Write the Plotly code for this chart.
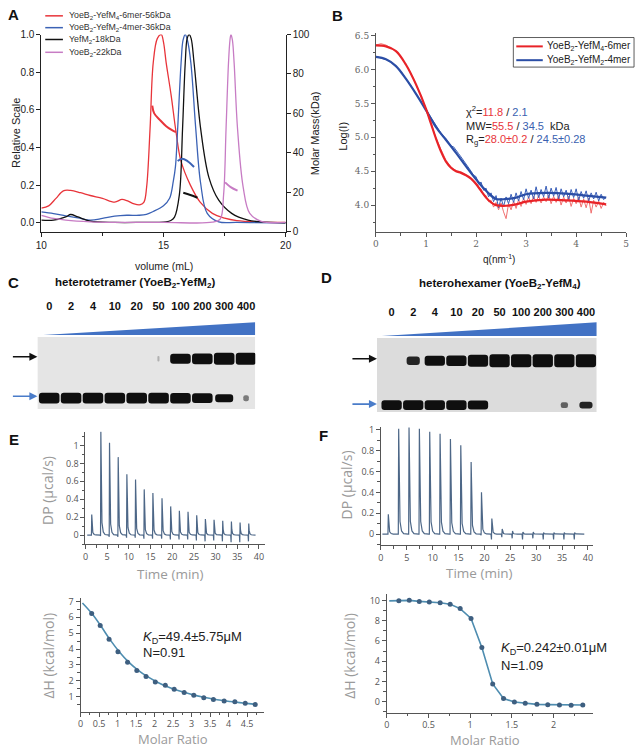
import plotly.graph_objects as go

W, H = 642, 755
def xd(a, b): return [a / W, b / W]
def yd(top, bottom): return [1 - bottom / H, 1 - top / H]
def px(x): return x / W
def py(y): return 1 - y / H

SANS = "Liberation Sans, Arial, sans-serif"
ITC = "Open Sans, Noto Sans, sans-serif"
SERIF = "DejaVu Serif, Liberation Serif, serif"
RED, BLUE, MAG = "#e8343a", "#3b62b5", "#c77cc4"

# ---------------- Panel A: SEC-MALS ----------------
A_red_vol = [10, 10.3, 10.6, 10.9, 11.2, 11.6, 12.0, 12.5, 13.0, 13.3, 13.5, 13.8, 14.05, 14.2, 14.31, 14.45, 14.58, 14.75, 14.91, 15.0, 15.11, 15.31, 15.51, 15.71, 16.1, 16.5, 17.0, 17.5, 18.0, 19.0, 20.0]
A_red = [0.078, 0.09, 0.13, 0.17, 0.172, 0.16, 0.145, 0.13, 0.11, 0.124, 0.118, 0.10, 0.096, 0.11, 0.19, 0.5, 0.85, 0.98, 1.0, 0.96, 0.85, 0.68, 0.485, 0.33, 0.2, 0.11, 0.05, 0.025, 0.012, 0.004, 0.002]
A_blue_vol = [10, 10.5, 11, 11.5, 12, 12.5, 13, 13.5, 14, 14.3, 14.58, 15.0, 15.25, 15.4, 15.49, 15.58, 15.72, 15.8, 15.89, 15.98, 16.12, 16.32, 16.52, 16.79, 17.26, 18, 20]
A_blue = [0.058, 0.049, 0.037, 0.026, 0.014, 0.023, 0.035, 0.04, 0.04, 0.045, 0.06, 0.09, 0.13, 0.22, 0.3, 0.5, 0.85, 0.97, 1.0, 0.97, 0.85, 0.5, 0.21, 0.05, 0.005, 0.002, 0.0]
A_black_vol = [10, 10.5, 11, 11.2, 11.5, 12, 13, 14, 15.1, 15.3, 15.45, 15.65, 15.78, 15.89, 15.97, 16.05, 16.13, 16.25, 16.52, 16.86, 17.26, 17.79, 18.46, 19, 20]
A_black = [0.014, 0.014, 0.031, 0.044, 0.031, 0.009, 0.002, 0.002, 0.005, 0.012, 0.03, 0.15, 0.5, 0.85, 0.98, 1.0, 0.98, 0.85, 0.5, 0.24, 0.12, 0.05, 0.014, 0.005, 0.0]
A_mag_vol = [10, 10.5, 11, 12, 13, 15, 17, 17.32, 17.46, 17.56, 17.66, 17.72, 17.76, 17.82, 17.89, 18.03, 18.26, 18.53, 19, 20]
A_mag = [0.04, 0.023, 0.014, 0.005, 0.002, 0.002, 0.003, 0.02, 0.15, 0.5, 0.85, 0.97, 1.0, 0.97, 0.85, 0.5, 0.19, 0.05, 0.008, 0.002]
A_red_mass_vol = [14.54, 14.62, 14.85, 15.11, 15.35, 15.51]
A_red_mass = [64, 60, 56.7, 53.5, 51.5, 50.5]
A_blue_mass_vol = [15.58, 15.76, 15.98, 16.25]
A_blue_mass = [35.8, 37, 35.8, 32.8]
A_black_mass_vol = [15.81, 16.1, 16.39]
A_black_mass = [19.7, 18.6, 17.2]
A_mag_mass_vol = [17.52, 17.75, 18.03]
A_mag_mass = [25, 22.6, 20.8]
A_names = ["YoeB<sub>2</sub>-YefM<sub>4</sub>-6mer-56kDa", "YoeB<sub>2</sub>-YefM<sub>2</sub>-4mer-36kDa",
           "YefM<sub>2</sub>-18kDa", "YoeB<sub>2</sub>-22kDa"]

# ---------------- Panel B: SAXS ----------------
B_red_fit_q = [0, 0.2, 0.4, 0.6, 0.8, 1.0, 1.1, 1.2, 1.3, 1.4, 1.5, 1.6, 1.7, 1.8, 1.9, 2.0, 2.1, 2.2, 2.3, 2.4, 2.6, 2.8, 3.0, 3.4, 3.8, 4.2, 4.6]
B_red_fit = [6.355, 6.34, 6.27, 6.07, 5.78, 5.42, 5.2, 4.98, 4.79, 4.64, 4.55, 4.5, 4.475, 4.44, 4.39, 4.31, 4.21, 4.11, 4.04, 4.0, 3.99, 4.01, 4.05, 4.08, 4.07, 4.05, 4.01]
B_blue_fit_q = [0, 0.2, 0.4, 0.6, 0.8, 1.0, 1.2, 1.4, 1.6, 1.8, 2.0, 2.2, 2.4, 2.6, 2.8, 3.0, 3.4, 3.8, 4.2, 4.6]
B_blue_fit = [6.185, 6.15, 6.05, 5.86, 5.64, 5.40, 5.15, 4.96, 4.77, 4.57, 4.38, 4.21, 4.09, 4.09, 4.11, 4.16, 4.18, 4.17, 4.14, 4.11]
B_red_q = [0.0, 0.1, 0.2, 0.3, 0.4, 0.5, 0.6, 0.7, 0.8, 0.9, 1.0, 1.1, 1.2, 1.3, 1.4, 1.5, 1.6, 1.7, 1.8, 1.9, 1.95,
           2.00, 2.05, 2.10, 2.15, 2.20, 2.25, 2.30, 2.35, 2.40, 2.45, 2.50, 2.55, 2.60, 2.65, 2.70, 2.75, 2.80, 2.85, 2.90, 2.95,
           3.00, 3.05, 3.10, 3.15, 3.20, 3.25, 3.30, 3.35, 3.40, 3.45, 3.50, 3.55, 3.60, 3.65, 3.70, 3.75, 3.80, 3.85, 3.90, 3.95,
           4.00, 4.05, 4.10, 4.15, 4.20, 4.25, 4.30, 4.35, 4.40, 4.45, 4.50, 4.55, 4.60]
B_red = [6.36, 6.38, 6.36, 6.31, 6.27, 6.18, 6.07, 5.94, 5.78, 5.61, 5.42, 5.20, 4.99, 4.82, 4.66, 4.56, 4.51, 4.49, 4.45, 4.40, 4.36,
         4.33, 4.27, 4.24, 4.15, 4.14, 4.05, 4.07, 3.97, 4.04, 3.93, 4.03, 3.90, 3.80, 4.02, 3.93, 4.06, 3.95, 4.08, 3.98, 4.10,
         4.01, 4.12, 4.02, 4.13, 4.04, 4.14, 4.03, 4.12, 4.05, 4.15, 4.02, 4.13, 4.04, 4.14, 4.00, 4.12, 4.03, 4.13, 3.98, 4.10,
         4.02, 4.12, 3.97, 4.09, 3.96, 4.10, 3.88, 4.07, 3.97, 4.06, 3.95, 4.04, 3.99]
B_blue_q = [0.0, 0.1, 0.2, 0.3, 0.4, 0.5, 0.6, 0.7, 0.8, 0.9, 1.0, 1.1, 1.2, 1.3, 1.40, 1.45, 1.50, 1.55, 1.60, 1.65, 1.70, 1.75, 1.80, 1.85,
            1.90, 1.95, 2.00, 2.05, 2.10, 2.15, 2.20, 2.25, 2.30, 2.35, 2.40, 2.45, 2.50, 2.55, 2.60, 2.65, 2.70, 2.75, 2.80, 2.85, 2.90, 2.95,
            3.00, 3.05, 3.10, 3.15, 3.20, 3.25, 3.30, 3.35, 3.40, 3.45, 3.50, 3.55, 3.60, 3.65, 3.70, 3.75, 3.80, 3.85, 3.90, 3.95,
            4.00, 4.05, 4.10, 4.15, 4.20, 4.25, 4.30, 4.35, 4.40, 4.45, 4.50, 4.55, 4.60]
B_blue = [6.19, 6.17, 6.15, 6.11, 6.05, 5.97, 5.87, 5.76, 5.64, 5.52, 5.40, 5.28, 5.16, 5.06, 4.98, 4.93, 4.87, 4.86, 4.80, 4.76, 4.71, 4.66, 4.60, 4.55,
          4.50, 4.44, 4.42, 4.31, 4.34, 4.22, 4.25, 4.12, 4.18, 4.05, 4.14, 3.96, 4.10, 3.98, 4.12, 4.02, 4.16, 4.04, 4.18, 4.06, 4.20, 4.08,
          4.24, 4.10, 4.22, 4.09, 4.27, 4.11, 4.23, 4.12, 4.28, 4.10, 4.25, 4.13, 4.26, 4.09, 4.24, 4.12, 4.22, 4.08, 4.23, 4.11,
          4.24, 4.07, 4.20, 4.10, 4.21, 4.06, 4.18, 4.09, 4.19, 4.06, 4.16, 4.08, 4.12]
B_names = ["YoeB<sub>2</sub>-YefM<sub>4</sub>-6mer", "YoeB<sub>2</sub>-YefM<sub>2</sub>-4mer"]

# ---------------- Panels C, D: native gels ----------------
conc_labels = ["0", "2", "4", "10", "20", "50", "100", "200", "300", "400"]
C_upper = [0, 0, 0, 0, 0, 0.12, 0.75, 0.85, 1.0, 1.0]
C_lower = [1, 1, 1, 1, 1, 1, 0.95, 0.85, 0.55, 0.25]
D_upper = [0, 0.45, 0.65, 0.7, 0.9, 1, 1, 1, 1, 1]
D_lower = [1, 1, 1, 1, 0.85, 0, 0, 0, 0.3, 0.45]
C_upper_pos, C_lower_pos = 21, 61     # migration (a.u. from well)
D_upper_pos, D_lower_pos = 23, 68

# ---------------- Panels E, F: ITC ----------------
E_inj_t = [1.4, 3.5, 5.5, 7.5, 9.5, 11.5, 13.5, 15.5, 17.6, 19.6, 21.6, 23.6, 25.6, 27.6, 29.6, 31.6, 33.6, 35.6, 37.6]
E_peak = [0.23, 1.16, 1.03, 0.87, 0.68, 0.62, 0.51, 0.47, 0.41, 0.32, 0.27, 0.26, 0.22, 0.18, 0.17, 0.16, 0.15, 0.14, 0.13]
E_dip = [0, -0.01, -0.02, -0.02, -0.03, -0.03, -0.04, -0.04, -0.04, -0.05, -0.05, -0.05, -0.06, -0.07, -0.06, -0.07, -0.08, -0.08, -0.07]
F_inj_t = [1.4, 3.4, 5.4, 7.4, 9.4, 11.4, 13.4, 15.4, 17.4, 19.4, 21.4, 23.4, 25.4, 27.4, 29.4, 31.4, 33.4, 35.4, 37.4]
F_peak = [0.19, 1.01, 1.02, 1.01, 0.98, 0.96, 0.91, 0.85, 0.69, 0.40, 0.15, 0.05, 0.03, 0.02, 0.02, 0.015, 0.015, 0.015, 0.015]
F_dip = [0, 0, 0, 0, 0, 0, 0, 0, 0, -0.01, -0.05, -0.03, -0.04, -0.05, -0.04, -0.05, -0.05, -0.05, -0.05]

E_ratio = [0.30, 0.53, 0.77, 1.01, 1.27, 1.52, 1.77, 2.02, 2.29, 2.53, 2.80, 3.06, 3.33, 3.59, 3.88, 4.17, 4.45, 4.72]
E_dH = [6.24, 5.49, 4.62, 3.84, 3.17, 2.66, 2.28, 1.93, 1.72, 1.48, 1.27, 1.10, 0.94, 0.83, 0.73, 0.69, 0.59, 0.52]
E_fit_x = [0.05, 0.3, 0.55, 0.8, 1.05, 1.3, 1.55, 1.8, 2.05, 2.3, 2.55, 2.8, 3.05, 3.3, 3.55, 3.8, 4.05, 4.3, 4.55, 4.75]
E_fit = [6.9, 6.25, 5.45, 4.58, 3.82, 3.18, 2.68, 2.28, 1.95, 1.68, 1.46, 1.28, 1.12, 0.99, 0.88, 0.78, 0.70, 0.63, 0.57, 0.52]
F_ratio = [0.145, 0.27, 0.39, 0.51, 0.64, 0.76, 0.88, 1.01, 1.14, 1.27, 1.40, 1.53, 1.66, 1.80, 1.93, 2.07, 2.21, 2.35]
F_dH = [9.97, 10.0, 9.9, 9.84, 9.77, 9.61, 9.19, 8.22, 5.34, 1.75, 0.32, -0.03, -0.16, -0.26, -0.29, -0.32, -0.36, -0.32]
F_fit_x = [0.03] + F_ratio
F_fit = [9.95] + F_dH

fig = go.Figure()

def sc(x, y, xa, ya, color, width, shape='spline', name=None, **kw):
    return go.Scatter(x=x, y=y, xaxis=xa, yaxis=ya, mode='lines', name=name,
                      line=dict(color=color, width=width, shape=shape), showlegend=False,
                      hoverinfo='skip', **kw)

# A traces
for vx, vy, c, n in [(A_red_vol, A_red, RED, A_names[0]), (A_blue_vol, A_blue, BLUE, A_names[1]),
                     (A_black_vol, A_black, "#111111", A_names[2]), (A_mag_vol, A_mag, MAG, A_names[3])]:
    fig.add_trace(sc(vx, vy, 'x', 'y', c, 1.3, name=n))
for vx, vy, c in [(A_red_mass_vol, A_red_mass, RED), (A_blue_mass_vol, A_blue_mass, BLUE),
                  (A_black_mass_vol, A_black_mass, "#111111"), (A_mag_mass_vol, A_mag_mass, MAG)]:
    fig.add_trace(sc(vx, vy, 'x', 'y2', c, 2.0))

# B traces
fig.add_trace(sc(B_red_q, B_red, 'x2', 'y3', "#f07070", 1.0, shape='linear'))
fig.add_trace(sc(B_blue_q, B_blue, 'x2', 'y3', "#3a5fb8", 1.0, shape='linear'))
fig.add_trace(sc(B_blue_fit_q, B_blue_fit, 'x2', 'y3', "#2b4ea6", 2.2, name=B_names[1]))
fig.add_trace(sc(B_red_fit_q, B_red_fit, 'x2', 'y3', "#e82328", 2.2, name=B_names[0]))

# Gel bands
def bands(intens, center, tmax, bg, xa, ya):
    xs, base, ys, widths, cols = [], [], [], [], []
    for k, i in enumerate(intens):
        if i <= 0:
            continue
        t = tmax * (0.4 + 0.6 * i)
        xs.append(k); base.append(center - t / 2); ys.append(t)
        widths.append(0.94 * min(1.0, (i / 0.6) ** 1.5))
        dark = min(1.0, 2 * i)
        v = int(round(bg - (bg - 15) * dark))
        cols.append(f"rgb({v},{v},{v})")
    return go.Bar(x=xs, y=ys, base=base, width=widths, xaxis=xa, yaxis=ya,
                  marker=dict(color=cols, line=dict(width=0), cornerradius=3),
                  showlegend=False, hoverinfo='skip')

fig.add_trace(bands(C_upper, C_upper_pos, 12, 228, 'x3', 'y4'))
fig.add_trace(bands(C_lower, C_lower_pos, 11, 228, 'x3', 'y4'))
fig.add_trace(bands(D_upper, D_upper_pos, 13, 220, 'x4', 'y5'))
fig.add_trace(bands(D_lower, D_lower_pos, 10, 220, 'x4', 'y5'))

# wedges (concentration gradient)
fig.add_trace(go.Scatter(x=[-0.27, 9.42, 9.42, -0.27], y=[-3, -16, -3, -3], xaxis='x3', yaxis='y4', mode='lines',
                         fill='toself', fillcolor='#4272c4', line=dict(width=0), showlegend=False, hoverinfo='skip'))
fig.add_trace(go.Scatter(x=[-0.45, 9.5, 9.5, -0.45], y=[-2, -16, -2, -2], xaxis='x4', yaxis='y5', mode='lines',
                         fill='toself', fillcolor='#4272c4', line=dict(width=0), showlegend=False, hoverinfo='skip'))

# ITC thermograms
PROFILE = [(-0.12, 0.0, 0.0), (-0.03, 0.0, 1.0), (0.04, 1.0, 0.0), (0.14, 0.4, 0.0),
           (0.3, 0.12, 0.0), (0.6, 0.03, 0.0), (1.0, 0.005, 0.0)]
def thermo(times, peaks, dips, t0, t1):
    xs, ys = [t0], [0.0]
    for t, h, d in zip(times, peaks, dips):
        for dt, fh, fd in PROFILE:
            xs.append(t + dt); ys.append(fh * h + fd * d)
    xs.append(t1); ys.append(0.0)
    return xs, ys

ex, ey = thermo(E_inj_t, E_peak, E_dip, 0.4, 39.2)
fx, fy = thermo(F_inj_t, F_peak, F_dip, 0.3, 39.3)
fig.add_trace(sc(ex, ey, 'x5', 'y6', "#4d6787", 1.2, shape='linear'))
fig.add_trace(sc(fx, fy, 'x6', 'y7', "#4d6787", 1.2, shape='linear'))

# ITC isotherms
fig.add_trace(sc(E_fit_x, E_fit, 'x7', 'y8', "#4e8db0", 1.6))
fig.add_trace(go.Scatter(x=E_ratio, y=E_dH, xaxis='x7', yaxis='y8', mode='markers',
                         marker=dict(color="#3e5f80", size=5), showlegend=False, hoverinfo='skip'))
fig.add_trace(sc(F_fit_x, F_fit, 'x8', 'y9', "#4e8db0", 1.6, shape='linear'))
fig.add_trace(go.Scatter(x=F_ratio, y=F_dH, xaxis='x8', yaxis='y9', mode='markers',
                         marker=dict(color="#3e5f80", size=5), showlegend=False, hoverinfo='skip'))

# ---------------- axes ----------------
def ax(domain, rng, **kw):
    d = dict(domain=domain, range=rng, showgrid=False, zeroline=False, showline=True,
             linecolor='#222', linewidth=1, ticks='outside', ticklen=4, tickwidth=1,
             tickcolor='#222', tickfont=dict(family=SANS, size=10, color='#222'))
    d.update(kw)
    return d

ITC_TICK = dict(family=ITC, size=9, color='#555')
def itc_ax(domain, rng, dtick, mdtick, anchor):
    return ax(domain, rng, anchor=anchor, dtick=dtick, tick0=0, linecolor='#555', tickcolor='#555',
              tickfont=ITC_TICK, minor=dict(dtick=mdtick, tick0=0, ticks='outside', ticklen=2.5, tickcolor='#555'))

gel_x = dict(showgrid=False, zeroline=False, showline=False, ticks='', side='top',
             tickvals=list(range(10)), ticktext=conc_labels,
             tickfont=dict(family=SANS, size=11, color='#111', weight='bold'))

layout = dict(
    width=W, height=H, margin=dict(l=0, r=0, t=0, b=0), paper_bgcolor='white', plot_bgcolor='rgba(0,0,0,0)',
    showlegend=False, barmode='overlay', font=dict(family=SANS),
    # A
    xaxis=ax(xd(36, 285), [10, 20], anchor='y', dtick=5, tick0=10,
             minor=dict(dtick=2.5, ticks='outside', ticklen=3, tickcolor='#222')),
    yaxis=ax(yd(30, 230), [-0.047, 1.0], anchor='x', dtick=0.2, tick0=0, tickformat='.1f'),
    yaxis2=ax(yd(30, 230), [0, 100], anchor='x', overlaying='y', side='right', dtick=20, tick0=0),
    # B
    xaxis2=ax(xd(377, 632), [0, 5], anchor='y3', dtick=1, tick0=0, linecolor='#555', tickcolor='#555',
              tickfont=dict(family=SERIF, size=9, color='#666'),
              minor=dict(dtick=0.5, ticks='outside', ticklen=3, tickcolor='#555')),
    yaxis3=ax(yd(28, 230), [3.608, 6.544], anchor='x2', dtick=0.5, tick0=4, tickformat='.1f',
              linecolor='#555', tickcolor='#555', tickfont=dict(family=SERIF, size=9, color='#666'),
              minor=dict(dtick=0.25, ticks='outside', ticklen=2, tickcolor='#555')),
    # C gel
    xaxis3=dict(domain=xd(32, 254), range=[-0.54, 9.42], anchor='y4', **gel_x),
    yaxis4=dict(domain=yd(313, 411), range=[73, -25], anchor='x3', visible=False),
    # D gel
    xaxis4=dict(domain=xd(378, 602), range=[-0.68, 9.5], anchor='y5', **gel_x),
    yaxis5=dict(domain=yd(319, 414), range=[76, -19], anchor='x4', visible=False),
    # E, F thermograms
    xaxis5=itc_ax(xd(81, 264), [0, 41.4], 5, 2.5, 'y6'),
    yaxis6=itc_ax(yd(433, 547), [-0.1, 1.154], 0.2, 0.1, 'x5'),
    xaxis6=itc_ax(xd(382, 598), [0, 40.95], 5, 2.5, 'y7'),
    yaxis7=itc_ax(yd(428, 548), [-0.104, 1.028], 0.2, 0.1, 'x6'),
    # E, F isotherms
    xaxis7=itc_ax(xd(76, 263), [0, 4.96], 0.5, 0.25, 'y8'),
    yaxis8=itc_ax(yd(602, 717), [0.07, 7.2], 1, 0.5, 'x7'),
    xaxis8=itc_ax(xd(388, 598), [0, 2.47], 0.5, 0.25, 'y9'),
    yaxis9=itc_ax(yd(598, 718), [-1.07, 10.6], 2, 1, 'x8'),
)
fig.update_layout(**layout)

# ---------------- shapes: gel backgrounds, legend keys ----------------
shapes = [
    dict(type='rect', xref='x3', yref='y4', x0=-0.54, x1=9.42, y0=-1, y1=72, fillcolor='#e5e5e5',
         line=dict(width=0), layer='below'),
    dict(type='rect', xref='x4', yref='y5', x0=-0.68, x1=9.5, y0=0, y1=75, fillcolor='#dcdcdc',
         line=dict(width=0), layer='below'),
]
A_leg_colors = [RED, BLUE, "#111111", MAG]
A_leg_y = [11, 23, 35, 48]
for c, yy in zip(A_leg_colors, A_leg_y):
    shapes.append(dict(type='line', xref='paper', yref='paper', x0=px(40), x1=px(58), y0=py(yy), y1=py(yy),
                       line=dict(color=c, width=1.5)))
shapes.append(dict(type='rect', xref='paper', yref='paper', x0=px(517), x1=px(640), y0=py(63), y1=py(33),
                   line=dict(color='#333', width=0.8), fillcolor='white'))
for c, yy in zip(["#e82328", "#2b4ea6"], [42, 56]):
    shapes.append(dict(type='line', xref='paper', yref='paper', x0=px(520), x1=px(547), y0=py(yy), y1=py(yy),
                       line=dict(color=c, width=2)))
fig.update_layout(shapes=shapes)

# ---------------- annotations ----------------
ann = []
def T(x, y, text, size=10, color='#222', family=SANS, xanchor='center', angle=0, bold=False):
    ann.append(dict(x=px(x), y=py(y), xref='paper', yref='paper', text=text, showarrow=False,
                    xanchor=xanchor, yanchor='middle', textangle=angle,
                    font=dict(size=size, color=color, family=family, weight='bold' if bold else 'normal')))

for lab, x, y in [("A", 8, 10), ("B", 338, 11), ("C", 8, 282), ("D", 327, 277), ("E", 8, 441), ("F", 324, 437)]:
    T(x, y, lab, size=15, color='#111', bold=True)

# A
for n, yy in zip(A_names, A_leg_y):
    T(62, yy, n, size=8.8, color='#333', xanchor='left')
T(10, 130, "Relative Scale", size=11, angle=-90)
T(315, 130, "Molar Mass(kDa)", size=11, angle=-90)
T(161, 265, "volume (mL)", size=10.5)
# B
for n, yy in zip(B_names, [42, 56]):
    T(549, yy, n, size=10, color='#222', xanchor='left')
T(343, 133, "Log(I)", size=11, angle=-90)
T(502, 258, "q(nm<sup>-1</sup>)", size=10)
rs = "<span style='color:#e8343a'>"; bs = "<span style='color:#3a5fb0'>"; e = "</span>"
T(467, 108, f"χ<sup>2</sup>={rs}11.8{e} / {bs}2.1{e}", size=11, xanchor='left')
T(467, 123, f"MW={rs}55.5{e} / {bs}34.5{e}  kDa", size=11, xanchor='left')
T(467, 137, f"R<sub>g</sub>={rs}28.0±0.2{e} / {bs}24.5±0.28{e}", size=11, xanchor='left')
# C, D
T(131, 282, "heterotetramer (YoeB<sub>2</sub>-YefM<sub>2</sub>)", size=11.5, color='#111', bold=True)
T(503, 283, "heterohexamer (YoeB<sub>2</sub>-YefM<sub>4</sub>)", size=11.5, color='#111', bold=True)
for tip_x, yy, c in [(32, 357, '#111'), (32, 397, '#4a7cc9'), (378, 359, '#111'), (378, 405, '#4a7cc9')]:
    ann.append(dict(x=px(tip_x), y=py(yy), xref='paper', yref='paper', ax=-26, ay=0, axref='pixel', ayref='pixel',
                    text='', showarrow=True, arrowhead=2, arrowsize=1, arrowwidth=1.6, arrowcolor=c))
# E, F
G = '#9a9a9a'
T(43, 493, "DP (µcal/s)", size=14, color=G, family=ITC, angle=-90)
T(168, 577, "Time (min)", size=13.5, color=G, family=ITC)
T(347, 487, "DP (µcal/s)", size=14, color=G, family=ITC, angle=-90)
T(483, 576, "Time (min)", size=13.5, color=G, family=ITC)
T(43, 660, "ΔH (kcal/mol)", size=14, color=G, family=ITC, angle=-90)
T(170, 745, "Molar Ratio", size=13, color=G, family=ITC)
T(350, 660, "ΔH (kcal/mol)", size=14, color=G, family=ITC, angle=-90)
T(488, 746, "Molar Ratio", size=13, color=G, family=ITC)
T(138, 642, "<i>K</i><sub>D</sub>=49.4±5.75μM", size=13, xanchor='left')
T(138, 657, "N=0.91", size=13, xanchor='left')
T(502, 653, "<i>K</i><sub>D</sub>=0.242±0.01μM", size=13, xanchor='left')
T(502, 670, "N=1.09", size=13, xanchor='left')
fig.update_layout(annotations=ann)

fig.write_html("out.html", config={'displayModeBar': False},
               post_script="document.body.style.margin='0px';document.body.style.overflow='hidden';")
